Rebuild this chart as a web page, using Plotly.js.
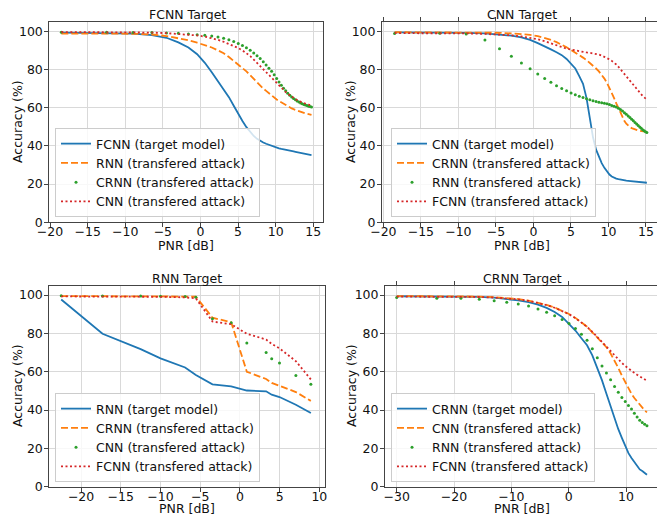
<!DOCTYPE html>
<html>
<head>
<meta charset="utf-8">
<script src="https://cdn.plot.ly/plotly-3.0.1.min.js"></script>
<style>
html,body{margin:0;padding:0;background:#fff;}
#chart{width:657px;height:514px;}
</style>
</head>
<body>
<div id="chart"></div>
<script>
// ---------- Data ----------
// FCNN target
const fcnnX = [-18.5, -12.48, -8.96, -6.46, -4.52, -2.94, -1.6, -0.44, 0.58, 1.5, 2.33, 3.08, 3.78, 4.42, 5.02, 5.58, 6.11, 6.61, 7.08, 7.52, 7.94, 8.35, 8.73, 9.1, 9.46, 9.8, 10.13, 10.44, 10.75, 11.04, 11.33, 11.6, 11.87, 12.13, 12.38, 12.63, 12.86, 13.1, 13.32, 13.54, 13.76, 13.96, 14.17, 14.37, 14.56, 14.76];
const fcnnTarget = [99.3, 99.2, 98.8, 98.0, 96.6, 94.2, 91.5, 88.0, 83.5, 78.5, 74.0, 69.5, 65.5, 61.0, 56.5, 53.0, 49.8, 47.3, 45.2, 43.7, 42.6, 41.8, 41.1, 40.5, 40.0, 39.5, 39.0, 38.7, 38.4, 38.1, 37.9, 37.7, 37.5, 37.3, 37.1, 36.9, 36.7, 36.5, 36.3, 36.1, 35.9, 35.7, 35.5, 35.4, 35.3, 35.2];
const fcnnRNN = [98.8, 98.8, 98.7, 98.3, 97.5, 96.3, 95.3, 94.0, 92.8, 91.5, 90.0, 88.5, 86.5, 84.5, 82.5, 81.0, 79.0, 77.0, 75.0, 73.0, 71.5, 70.0, 68.8, 67.5, 66.4, 65.3, 64.3, 63.5, 62.7, 62.0, 61.3, 60.7, 60.1, 59.6, 59.2, 58.8, 58.4, 58.1, 57.8, 57.5, 57.2, 57.0, 56.8, 56.6, 56.4, 56.2];
const fcnnCRNN = [99.5, 99.5, 99.4, 99.3, 99.1, 98.9, 98.6, 98.2, 97.9, 97.5, 97.0, 96.4, 95.6, 94.6, 93.6, 92.6, 91.3, 90.0, 88.6, 87.2, 85.7, 84.0, 82.3, 80.6, 79.0, 77.2, 75.3, 73.5, 71.8, 70.2, 68.8, 67.6, 66.5, 65.6, 64.8, 64.1, 63.5, 63.0, 62.5, 62.1, 61.7, 61.4, 61.1, 60.8, 60.6, 60.4];
const fcnnCNN = [99.6, 99.6, 99.5, 99.3, 99.0, 98.6, 98.2, 97.8, 97.2, 96.5, 95.5, 94.5, 93.4, 92.3, 91.2, 90.0, 88.6, 87.0, 85.2, 83.4, 81.8, 80.2, 78.6, 77.1, 75.6, 74.2, 72.8, 71.5, 70.3, 69.2, 68.2, 67.3, 66.5, 65.7, 65.0, 64.4, 63.9, 63.4, 63.0, 62.6, 62.3, 62.0, 61.8, 61.6, 61.4, 61.2];

// CNN target
const cnnX = [-18.5, -12.48, -8.96, -6.46, -4.52, -2.94, -1.6, -0.44, 0.58, 1.5, 2.33, 3.08, 3.78, 4.42, 5.02, 5.58, 6.11, 6.61, 7.08, 7.52, 7.94, 8.35, 8.73, 9.1, 9.46, 9.8, 10.13, 10.44, 10.75, 11.04, 11.33, 11.6, 11.87, 12.13, 12.38, 12.63, 12.86, 13.1, 13.32, 13.54, 13.76, 13.96, 14.17, 14.37, 14.56, 14.76, 14.94, 15.12];
const cnnTarget = [99.4, 99.4, 99.2, 98.9, 98.4, 97.7, 96.8, 95.5, 93.8, 92.2, 90.5, 89.0, 87.5, 85.5, 83.0, 80.5, 76.5, 72.5, 65.0, 54.5, 44.5, 38.0, 34.0, 31.0, 28.5, 26.5, 25.0, 24.0, 23.3, 22.9, 22.6, 22.3, 22.1, 21.9, 21.8, 21.7, 21.6, 21.5, 21.4, 21.3, 21.2, 21.1, 21.0, 20.9, 20.8, 20.8, 20.7, 20.7];
const cnnCRNN = [99.5, 99.5, 99.5, 99.4, 99.2, 98.9, 98.6, 98.1, 97.4, 96.5, 95.5, 94.3, 93.0, 91.6, 90.2, 88.9, 87.6, 86.2, 84.9, 83.5, 82.0, 80.5, 79.0, 77.2, 75.2, 73.0, 70.5, 67.8, 65.0, 62.3, 59.6, 57.0, 54.8, 53.0, 51.6, 50.5, 49.8, 49.3, 48.9, 48.6, 48.3, 48.1, 47.9, 47.7, 47.6, 47.5, 47.4, 47.3];
const cnnRNN = [98.8, 98.9, 98.5, 95.4, 90.9, 86.9, 83.4, 80.4, 77.6, 75.3, 73.3, 71.5, 70.0, 68.8, 67.7, 66.8, 66.0, 65.3, 64.7, 64.1, 63.6, 63.2, 62.9, 62.6, 62.3, 62.0, 61.6, 61.2, 60.8, 60.3, 59.7, 59.0, 58.2, 57.4, 56.5, 55.6, 54.8, 53.9, 53.1, 52.3, 51.5, 50.7, 49.9, 49.2, 48.5, 47.9, 47.4, 47.0];
const cnnFCNN = [99.0, 99.0, 98.9, 98.6, 98.3, 97.9, 97.3, 96.6, 95.8, 94.8, 93.6, 92.5, 91.6, 90.9, 90.4, 89.9, 89.5, 89.2, 88.9, 88.7, 88.5, 88.2, 87.8, 87.3, 86.7, 86.1, 85.3, 84.5, 83.6, 82.6, 81.4, 80.1, 78.8, 77.5, 76.2, 75.0, 73.9, 72.8, 71.8, 70.8, 69.8, 68.8, 67.8, 66.9, 66.1, 65.4, 64.8, 64.3];

// RNN target
const rnnX = [-22.5, -17.3, -12.5, -10.0, -6.9, -5.55, -3.46, -1.1, 0.87, 3.3, 4.0, 4.98, 7.04, 8.93];
const rnnTarget = [97.7, 79.8, 71.8, 67.0, 62.2, 58.3, 53.4, 52.3, 50.2, 49.8, 48.0, 46.8, 42.8, 38.5];
const rnnCRNN = [99.5, 99.5, 99.5, 99.5, 99.4, 99.2, 88.2, 85.8, 60.0, 56.2, 54.2, 52.6, 49.4, 44.8];
const rnnCNN = [99.6, 99.5, 99.5, 99.4, 99.3, 98.9, 87.6, 85.6, 75.0, 70.0, 66.8, 64.6, 58.0, 53.5];
const rnnFCNN = [99.3, 99.3, 99.2, 99.1, 98.8, 98.3, 86.2, 84.8, 79.8, 76.8, 74.5, 72.2, 65.5, 56.0];

// CRNN target
const crnnX = [-30.0, -23.0, -18.8, -15.6, -13.0, -10.8, -8.8, -7.0, -5.35, -3.85, -2.45, -1.15, 0.05, 1.17, 2.22, 3.2, 4.12, 4.99, 5.81, 6.58, 7.31, 8.0, 8.65, 9.27, 9.86, 10.42, 10.95, 11.45, 11.93, 12.39, 12.83, 13.25, 13.65];
const crnnTarget = [99.4, 99.4, 99.3, 99.1, 98.7, 98.0, 97.2, 96.3, 95.0, 93.3, 91.2, 88.6, 85.0, 81.5, 77.5, 73.8, 68.5, 62.3, 55.5, 48.5, 41.8, 35.8, 30.0, 25.5, 21.0, 17.5, 15.0, 12.8, 10.5, 9.0, 8.2, 7.2, 6.2];
const crnnCNN = [99.5, 99.5, 99.4, 99.2, 98.9, 98.5, 97.9, 97.1, 96.1, 94.9, 93.5, 91.9, 90.1, 88.1, 85.9, 83.5, 80.6, 78.0, 75.5, 72.8, 69.5, 65.8, 62.0, 58.0, 54.5, 51.3, 48.5, 46.3, 44.5, 42.8, 41.2, 39.8, 38.8];
const crnnRNN = [98.8, 98.4, 98.3, 97.8, 97.0, 96.3, 95.3, 94.3, 92.8, 91.0, 89.2, 87.3, 85.2, 82.5, 79.5, 76.4, 72.0, 67.3, 63.0, 59.4, 55.8, 52.3, 49.3, 46.6, 44.4, 42.4, 40.5, 38.3, 36.4, 34.7, 33.5, 32.6, 31.8];
const crnnFCNN = [99.2, 99.2, 99.1, 99.0, 98.7, 98.3, 97.8, 97.0, 96.0, 94.8, 93.4, 91.8, 90.0, 88.0, 85.8, 83.4, 80.8, 78.0, 75.5, 73.2, 71.0, 68.8, 66.5, 64.6, 63.0, 61.6, 60.5, 59.4, 58.4, 57.5, 56.6, 55.9, 55.3];

const titles = ["FCNN Target", "CNN Target", "RNN Target", "CRNN Target"];
const names1 = ["FCNN (target model)", "RNN (transfered attack)", "CRNN (transfered attack)", "CNN (transfered attack)"];
const names2 = ["CNN (target model)", "CRNN (transfered attack)", "RNN (transfered attack)", "FCNN (transfered attack)"];
const names3 = ["RNN (target model)", "CRNN (transfered attack)", "CNN (transfered attack)", "FCNN (transfered attack)"];
const names4 = ["CRNN (target model)", "CNN (transfered attack)", "RNN (transfered attack)", "FCNN (transfered attack)"];

// ---------- Styling ----------
const FONT = "DejaVu Sans, sans-serif";
const C = ["#1f77b4", "#ff7f0e", "#2ca02c", "#d62728"];
const LW = 1.8;

function series(x, ys, names, idx) {
  const xa = idx === 1 ? "x" : "x" + idx;
  const ya = idx === 1 ? "y" : "y" + idx;
  const lg = idx === 1 ? "legend" : "legend" + idx;
  return [
    {x: x, y: ys[0], name: names[0], type: "scatter", mode: "lines", line: {color: C[0], width: LW}, xaxis: xa, yaxis: ya, legend: lg},
    {x: x, y: ys[1], name: names[1], type: "scatter", mode: "lines", line: {color: C[1], width: LW, dash: "7px,3px"}, xaxis: xa, yaxis: ya, legend: lg},
    {x: x, y: ys[2], name: names[2], type: "scatter", mode: "markers", marker: {color: C[2], size: 3, line: {width: 0}}, xaxis: xa, yaxis: ya, legend: lg},
    {x: x, y: ys[3], name: names[3], type: "scatter", mode: "lines", line: {color: C[3], width: LW, dash: "2px,2.5px"}, xaxis: xa, yaxis: ya, legend: lg}
  ];
}

const data = [].concat(
  series(fcnnX, [fcnnTarget, fcnnRNN, fcnnCRNN, fcnnCNN], names1, 1),
  series(cnnX, [cnnTarget, cnnCRNN, cnnRNN, cnnFCNN], names2, 2),
  series(rnnX, [rnnTarget, rnnCRNN, rnnCNN, rnnFCNN], names3, 3),
  series(crnnX, [crnnTarget, crnnCNN, crnnRNN, crnnFCNN], names4, 4)
);

const W = 657, H = 514;
const px = v => v / W;
const py = v => 1 - v / H;

function xax(domain, range, dtick, mirror) {
  return {
    domain: domain, range: range, dtick: dtick, tick0: 0,
    showline: true, linecolor: "#444", linewidth: 1, mirror: mirror,
    ticks: "outside", ticklen: 4, tickwidth: 1, tickcolor: "#444",
    ticklabelstandoff: -6,
    showgrid: true, gridcolor: "#d9d9d9", gridwidth: 1, zeroline: false,
    tickfont: {family: FONT, size: 12.5, color: "#111"}
  };
}
function yax(domain, mirror) {
  return {
    domain: domain, range: [0, 105], dtick: 20, tick0: 0,
    showline: true, linecolor: "#444", linewidth: 1, mirror: mirror,
    ticks: "outside", ticklen: 4, tickwidth: 1, tickcolor: "#444",
    ticklabelstandoff: -1,
    showgrid: true, gridcolor: "#d9d9d9", gridwidth: 1, zeroline: false,
    tickfont: {family: FONT, size: 12.5, color: "#111"}
  };
}

const topY = [py(222.3), py(21.7)];
const botY = [py(486.7), py(285.5)];

function legendAt(left, bottom) {
  return {
    x: px(left), y: py(bottom), xref: "paper", yref: "paper",
    xanchor: "left", yanchor: "bottom",
    bgcolor: "rgba(255,255,255,0.8)", bordercolor: "#cccccc", borderwidth: 1,
    font: {family: FONT, size: 12.5, color: "#111"}
  };
}

function ann(text, x, y, angle) {
  return {text: text, x: x, y: y, xref: "paper", yref: "paper", showarrow: false,
    xanchor: "center", yanchor: "middle", textangle: angle || 0,
    font: {family: FONT, size: 12.5, color: "#111"}};
}

const layout = {
  width: W, height: H,
  margin: {l: 0, r: 0, t: 0, b: 0},
  paper_bgcolor: "#fff", plot_bgcolor: "#fff",
  showlegend: true,
  xaxis: Object.assign(xax([px(49.3), px(323.3)], [-20.1, 16.33], 5, true), {anchor: "y"}),
  yaxis: Object.assign(yax(topY, true), {anchor: "x"}),
  xaxis2: Object.assign(xax([px(382), 1], [-20.18, 16.47], 5, "ticks"), {anchor: "y2"}),
  yaxis2: Object.assign(yax(topY, false), {anchor: "x2"}),
  xaxis3: Object.assign(xax([px(49.3), px(325)], [-24.0, 10.71], 5, true), {anchor: "y3"}),
  yaxis3: Object.assign(yax(botY, true), {anchor: "x3"}),
  xaxis4: Object.assign(xax([px(385), 1], [-32.04, 15.4], 10, "ticks"), {anchor: "y4"}),
  yaxis4: Object.assign(yax(botY, false), {anchor: "x4"}),
  legend: legendAt(55, 217),
  legend2: legendAt(391, 217),
  legend3: legendAt(55, 482),
  legend4: legendAt(391, 482),
  annotations: [
    ann(titles[0], px(187), py(14.5)),
    ann(titles[1], px(522), py(14.5)),
    ann(titles[2], px(187), py(278)),
    ann(titles[3], px(522), py(278)),
    ann("PNR [dB]", px(186.3), py(245)),
    ann("PNR [dB]", px(522), py(245)),
    ann("PNR [dB]", px(187.2), py(508.5)),
    ann("PNR [dB]", px(522), py(508.5)),
    ann("Accuracy (%)", px(17), py(122), -90),
    ann("Accuracy (%)", px(350), py(122), -90),
    ann("Accuracy (%)", px(17), py(386), -90),
    ann("Accuracy (%)", px(351), py(386), -90)
  ]
};

Plotly.newPlot("chart", data, layout, {displayModeBar: false, staticPlot: true});
</script>
</body>
</html>
